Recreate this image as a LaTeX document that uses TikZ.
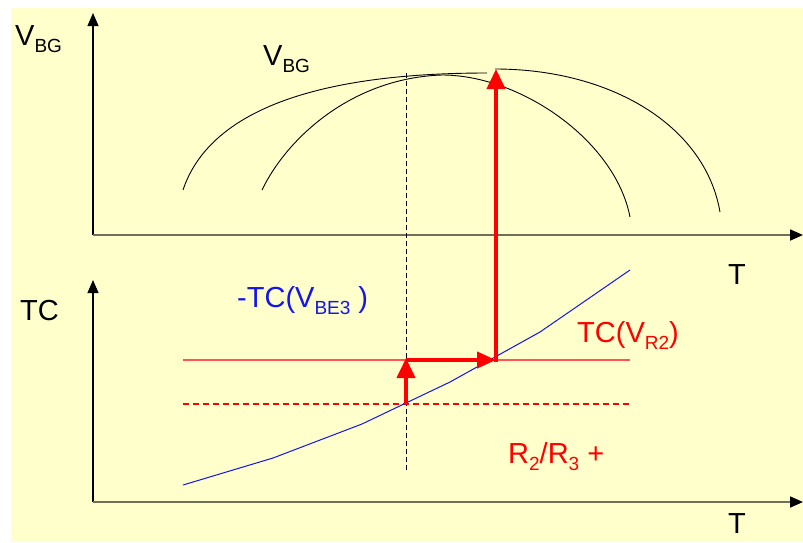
\documentclass[tikz,border=0pt]{standalone}
\usepackage{fontspec}
\setmainfont{Liberation Sans}
\usetikzlibrary{arrows.meta}
\definecolor{bgyellow}{HTML}{FFFFCC}
\definecolor{axisgrey}{HTML}{6E6E5A}
\definecolor{lightred}{HTML}{FF5555}
\definecolor{curveblue}{HTML}{1414F0}
\newcommand{\lowsub}[1]{\raisebox{-7pt}{\fontsize{19}{19}\selectfont #1}}
\begin{document}
\begin{tikzpicture}[x=1pt,y=-1pt,
  lbl/.style={anchor=base west, inner sep=0pt, font=\fontsize{29}{29}\selectfont},
  yaxis/.style={draw=black, line width=1.1pt, -{Triangle[width=11pt,length=13pt]}},
  xaxis/.style={draw=axisgrey, line width=1.8pt, -{Triangle[width=11pt,length=13pt,color=black]}},
  curve/.style={draw=black, line width=0.9pt},
  bigarrow/.style={draw=red, line width=4pt, -{Triangle[width=18pt,length=20pt]}},
  guide/.style={draw=black, line width=0.9pt, dash pattern=on 5pt off 3pt}]
\useasboundingbox (0,0) rectangle (803,542);
\fill[bgyellow] (11,8) rectangle (803,542);

% named coordinates
\coordinate (o1) at (93,235);
\coordinate (y1) at (93,13);
\coordinate (x1) at (803,235);
\coordinate (o2) at (93,502);
\coordinate (y2) at (93,280);
\coordinate (x2) at (803,502);

% axes
\draw[yaxis] (o1) -- (y1);
\draw[xaxis] (o1) -- (x1);
\draw[yaxis] (o2) -- (y2);
\draw[xaxis] (o2) -- (x2);

% top curves
\draw[curve] (183,190) .. controls (207,118) and (300,73) .. (487,73);
\draw[curve] (262,190) .. controls (287,138) and (352,78) .. (442,75)
                        .. controls (520,75) and (615,140) .. (630,217);
\draw[curve] (495,69) .. controls (610,69) and (705,125) .. (720,212);

% guide lines
\coordinate (gtop) at (406,73);
\coordinate (gbot) at (406,470);
\draw[guide] (gtop) -- (gbot);

\coordinate (rl) at (183,360);
\coordinate (rr) at (630,360);
\draw[lightred, line width=1.3pt] (rl) -- (rr);
\coordinate (dl) at (183,404);
\coordinate (dr) at (630,404);
\draw[red, line width=1.1pt, dash pattern=on 6pt off 4pt] (dl) -- (dr);

% blue curve
\draw[curveblue, line width=1pt] (183,485) -- (273,458) -- (362,424) -- (450,382) -- (540,332) -- (630,270);

% red arrows
\coordinate (a1s) at (406,404);
\coordinate (a1e) at (406,358);
\coordinate (a2s) at (406,360);
\coordinate (a2e) at (496,360);
\coordinate (a3s) at (496,362);
\coordinate (a3e) at (496,69);
\draw[bigarrow] (a1s) -- (a1e);
\draw[bigarrow, -{Triangle[width=16pt,length=19pt]}] (a2s) -- (a2e);
\draw[bigarrow] (a3s) -- (a3e);

% labels
\node[lbl] (lvbg) at (15,45) {V\lowsub{BG}};
\node[lbl] (cvbg) at (263,65) {V\lowsub{BG}};
\node[lbl] (t1) at (728,284) {T};
\node[lbl] (tc) at (20,320) {TC};
\node[lbl, text=curveblue] (tcbe) at (237,307) {-TC(V\lowsub{BE3} )};
\node[lbl, text=red] (tcr) at (577,342) {TC(V\lowsub{R2})};
\node[lbl, text=red] (rrl) at (508,463) {R\lowsub{2}/R\lowsub{3} +};
\node[lbl] (t2) at (728,533) {T};
\end{tikzpicture}
\end{document}
